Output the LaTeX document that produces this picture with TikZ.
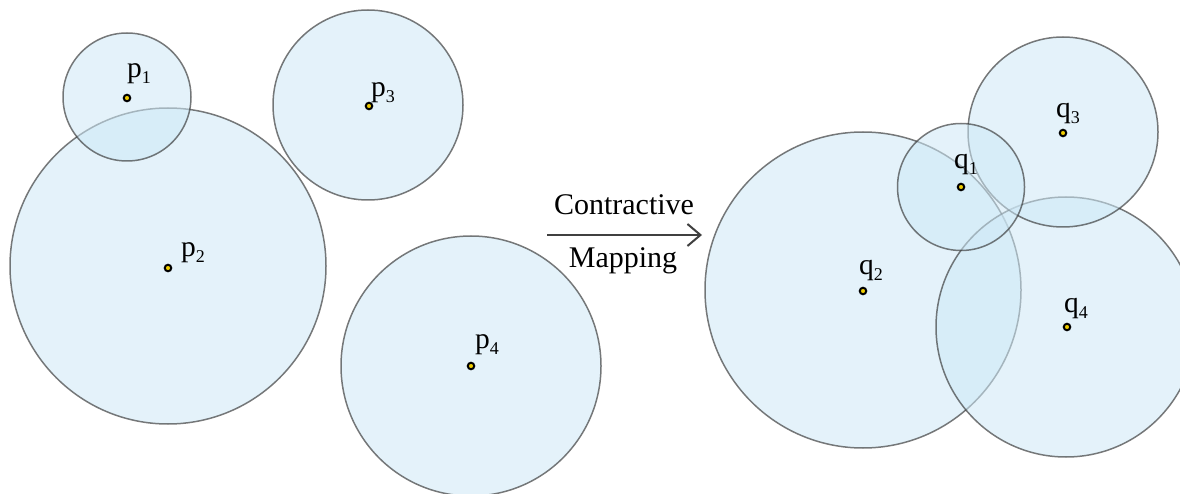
\documentclass[tikz,border=0pt]{standalone}
\usepackage{fontspec}
\setmainfont{Liberation Serif}
\usetikzlibrary{arrows.meta}
\definecolor{discfill}{RGB}{205,232,246}
\definecolor{dotfill}{RGB}{240,205,0}
\newcommand{\lbl}[2]{#1\raisebox{-6pt}{\fontsize{18}{18}\selectfont #2}}
\begin{document}
\begin{tikzpicture}[x=1pt,y=-1pt,
  disc/.style={circle,inner sep=0pt,outer sep=0pt,minimum size=#1,
    fill=discfill,fill opacity=0.55,draw=black!80,draw opacity=0.65,line width=1.5pt},
  ctr/.style={circle,inner sep=0pt,minimum size=6.5pt,fill=dotfill,draw=black,line width=2pt},
  lab/.style={anchor=base west,inner sep=0pt,font=\fontsize{29.5}{30}\selectfont},
  captxt/.style={inner sep=0pt,font=\fontsize{30}{32}\selectfont}]
\useasboundingbox (0,0) rectangle (1180,494);
\clip (0,0) rectangle (1180,494);
% left group
\node[disc=316pt] (P2) at (168,266) {};
\node[disc=128pt] (P1) at (127,97) {};
\node[disc=190pt] (P3) at (368,105) {};
\node[disc=260pt] (P4) at (471,366) {};
% right group
\node[disc=316pt] (Q2) at (863,290) {};
\node[disc=260pt] (Q4) at (1066,327) {};
\node[disc=190pt] (Q3) at (1063,132) {};
\node[disc=127pt] (Q1) at (961,187) {};
% centres
\node[ctr] (p1) at (127,98) {};
\node[ctr] (p2) at (168,268) {};
\node[ctr] (p3) at (369,106) {};
\node[ctr] (p4) at (471,366) {};
\node[ctr] (q1) at (961,187) {};
\node[ctr] (q2) at (863,291) {};
\node[ctr] (q3) at (1063,133) {};
\node[ctr] (q4) at (1067,327) {};
% labels
\node[lab] (lp1) at (127,78) {\lbl{p}{1}};
\node[lab] (lp2) at (181,257) {\lbl{p}{2}};
\node[lab] (lp3) at (371,97) {\lbl{p}{3}};
\node[lab] (lp4) at (475,348) {\lbl{p}{4}};
\node[lab] (lq1) at (954,169) {\lbl{q}{1}};
\node[lab] (lq2) at (859,274) {\lbl{q}{2}};
\node[lab] (lq3) at (1056,118) {\lbl{q}{3}};
\node[lab] (lq4) at (1064,312) {\lbl{q}{4}};
% arrow
\coordinate (a0) at (547,235);
\coordinate (a1) at (702,235);
\draw[line width=2pt,draw=black!75,-{Straight Barb[length=13pt,width=22pt,line width=2pt]}] (a0) -- (a1);
\node[captxt,anchor=base] (t1) at (624,215) {Contractive};
\node[captxt,anchor=base] (t2) at (623,268) {Mapping};
\end{tikzpicture}
\end{document}
